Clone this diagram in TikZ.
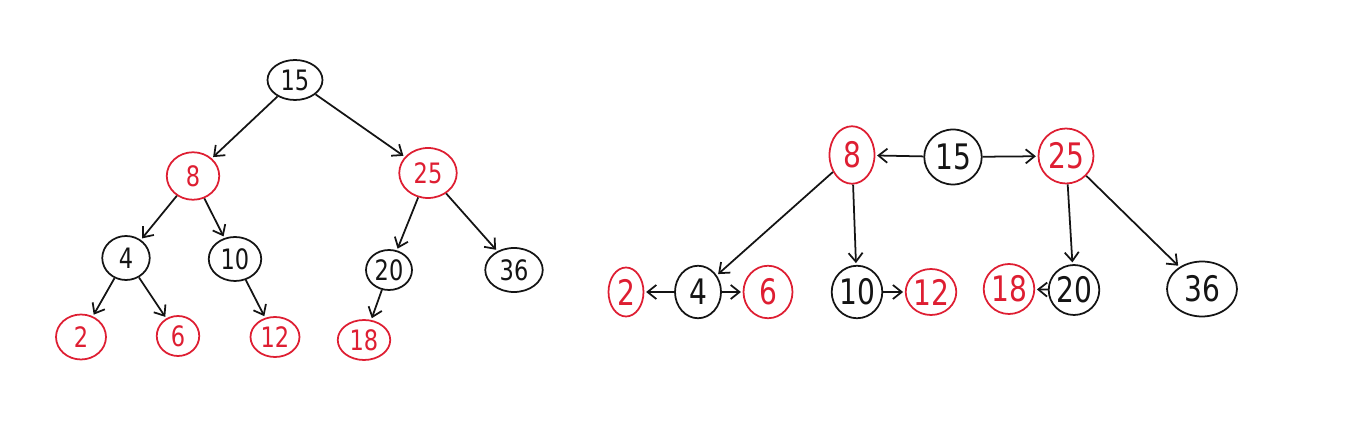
\documentclass[tikz,border=0pt]{standalone}
\usepackage{fontspec}
\setmainfont[FakeStretch=0.8]{DejaVu Sans}
\usetikzlibrary{shapes.geometric,arrows.meta,positioning}
\definecolor{rbred}{RGB}{222,30,50}
\definecolor{rbblack}{RGB}{20,20,20}

\begin{document}
\begin{tikzpicture}[x=0.02cm,y=-0.02cm,line width=1pt]
\tikzset{blk/.style={ellipse,draw=rbblack,text=rbblack,inner sep=0pt,font=\fontsize{16}{17}\selectfont},
  red/.style={blk,draw=rbred,text=rbred},
  big/.style={font=\fontsize{20}{21}\selectfont},
  arr/.style={-{Straight Barb[length=5pt,width=8pt]},rbblack,shorten >=1pt}}
\useasboundingbox (0,0) rectangle (1369,428);
% left: red-black tree
\node[blk,minimum width=1.1cm,minimum height=0.8cm] (l15) at (295,80) {15};
\node[red,minimum width=1.05cm,minimum height=0.95cm] (l8) at (193,176) {8};
\node[red,minimum width=1.15cm,minimum height=1.0cm] (l25) at (428,173) {25};
\node[blk,minimum width=0.95cm,minimum height=0.88cm] (l4) at (126,258) {4};
\node[blk,minimum width=1.05cm,minimum height=0.88cm] (l10) at (235,259) {10};
\node[blk,minimum width=0.92cm,minimum height=0.8cm] (l20) at (389,270) {20};
\node[blk,minimum width=1.15cm,minimum height=0.88cm] (l36) at (514,270) {36};
\node[red,minimum width=1.0cm,minimum height=0.9cm] (l2) at (81,337) {2};
\node[red,minimum width=0.85cm,minimum height=0.8cm] (l6) at (178,336) {6};
\node[red,minimum width=0.98cm,minimum height=0.8cm] (l12) at (275,337) {12};
\node[red,minimum width=1.05cm,minimum height=0.8cm] (l18) at (364,340) {18};
\foreach \a/\b in {l15/l8,l15/l25,l8/l4,l8/l10,l25/l20,l25/l36,l4/l2,l4/l6,l10/l12,l20/l18}
  \draw[arr] (\a)--(\b);
% right: 2-3-4 tree view
\node[red,big,minimum width=0.9cm,minimum height=1.15cm] (r8) at (852,155) {8};
\node[blk,big,minimum width=1.15cm,minimum height=1.1cm] (r15) at (953,157) {15};
\node[red,big,minimum width=1.1cm,minimum height=1.1cm] (r25) at (1066,156) {25};
\node[red,big,minimum width=0.7cm,minimum height=0.98cm] (r2) at (626,292) {2};
\node[blk,big,minimum width=0.92cm,minimum height=1.05cm] (r4) at (698,292) {4};
\node[red,big,minimum width=0.98cm,minimum height=1.05cm] (r6) at (768,292) {6};
\node[blk,big,minimum width=0.92cm,minimum height=1.05cm] (r10) at (857,292) {10};
\node[red,big,minimum width=0.95cm,minimum height=0.92cm] (r12) at (931,292) {12};
\node[red,big,minimum width=0.82cm,minimum height=1.0cm] (r18) at (1009,289) {18};
\node[blk,big,minimum width=0.92cm,minimum height=1.0cm] (r20) at (1074,290) {20};
\node[blk,big,minimum width=1.4cm,minimum height=1.1cm] (r36) at (1202,289) {36};
\foreach \a/\b in {r15/r8,r15/r25,r8/r4,r8/r10,r25/r20,r25/r36,r4/r2,r4/r6,r10/r12,r20/r18}
  \draw[arr] (\a)--(\b);
\end{tikzpicture}
\end{document}
